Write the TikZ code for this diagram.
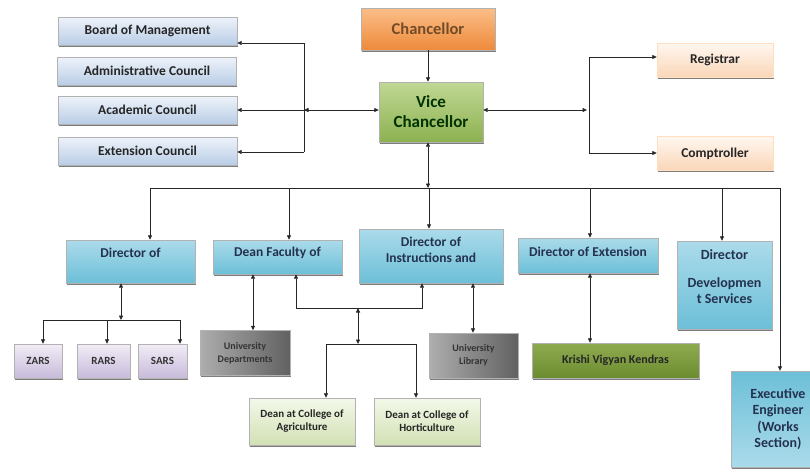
\documentclass[tikz,border=0pt]{standalone}
\usepackage{fontspec}
\setmainfont{Carlito}
\usetikzlibrary{arrows.meta,shadows}

\definecolor{councilTop}{HTML}{EEF3FA}
\definecolor{councilBot}{HTML}{B9CDE6}
\definecolor{chanTop}{HTML}{FBBE88}
\definecolor{chanBot}{HTML}{EE8A3C}
\definecolor{vcTop}{HTML}{C0D894}
\definecolor{vcBot}{HTML}{8DB150}
\definecolor{peachTop}{HTML}{FFF7F0}
\definecolor{peachBot}{HTML}{FAD6B8}
\definecolor{blueTop}{HTML}{ABDBEA}
\definecolor{blueBot}{HTML}{6CBFD8}
\definecolor{lavTop}{HTML}{F1ECF6}
\definecolor{lavBot}{HTML}{C8BBDB}
\definecolor{oliveTop}{HTML}{8FAB50}
\definecolor{oliveBot}{HTML}{6C8C30}
\definecolor{paleTop}{HTML}{F3F8E9}
\definecolor{paleBot}{HTML}{D2E1B4}
\definecolor{navyText}{HTML}{24324F}

\tikzset{
  box/.style={draw=black!30, line width=0.4pt, align=center, inner sep=1pt,
    drop shadow={shadow xshift=0.5pt, shadow yshift=-1.6pt, fill=black!60, opacity=0.85}},
  councilbox/.style={box, top color=councilTop, bottom color=councilBot,
    minimum width=179pt, minimum height=28pt, text=black!85,
    font=\bfseries\fontsize{13.5}{15}\selectfont},
  peachbox/.style={box, draw=orange!25, top color=peachTop, bottom color=peachBot,
    minimum width=116pt, minimum height=34pt, text=black!85,
    font=\bfseries\fontsize{13.5}{15}\selectfont},
  bluebox/.style={box, top color=blueTop, bottom color=blueBot},
  bluetext/.style={align=center, text=navyText, font=\bfseries\fontsize{13.5}{16}\selectfont},
  lavbox/.style={box, top color=lavTop, bottom color=lavBot, minimum height=34pt,
    text=black!80, font=\bfseries\fontsize{11}{13}\selectfont},
  graybox/.style={box, left color=black!32, middle color=black!6, right color=black!62,
    minimum width=90pt, minimum height=45pt, text=black!80,
    font=\bfseries\fontsize{10}{13}\selectfont},
  palebox/.style={box, top color=paleTop, bottom color=paleBot,
    minimum width=106pt, minimum height=47pt, text=black!85,
    font=\bfseries\fontsize{11}{13}\selectfont},
  link/.style={draw=black!85, line width=0.8pt},
  tip/.style={-{Triangle[length=4.5pt,width=4pt]}},
  twotip/.style={{Triangle[length=4.5pt,width=4pt]}-{Triangle[length=4.5pt,width=4pt]}}
}

\begin{document}
\begin{tikzpicture}[x=1pt, y=-1pt]
\useasboundingbox (0,0) rectangle (810,471);

% councils on the left
\node[councilbox] (bom) at (147.5,31) {Board of Management};
\node[councilbox] (adm) at (147,71) {Administrative Council};
\node[councilbox] (acad) at (147.5,110) {Academic Council};
\node[councilbox] (extc) at (147.5,151) {Extension Council};

% top of the tree
\node[box, top color=chanTop, bottom color=chanBot, minimum width=134pt, minimum height=42pt,
  text=brown!60!black, font=\bfseries\fontsize{16.5}{19}\selectfont] (chan) at (428,29) {Chancellor};
\node[box, top color=vcTop, bottom color=vcBot, minimum width=104pt, minimum height=60pt,
  text=green!20!black, font=\bfseries\fontsize{17}{20}\selectfont] (vc) at (431,112) {Vice\\Chancellor};
\node[peachbox] (reg) at (715,60) {Registrar};
\node[peachbox] (comp) at (715,153.5) {Comptroller};

% directors and deans
\node[bluebox, minimum width=129pt, minimum height=43pt,
  label={[bluetext, yshift=8.5pt]center:Director of}] (res) at (130.5,261.5) {};
\node[bluebox, minimum width=129pt, minimum height=34pt,
  label={[bluetext, yshift=4pt]center:Dean Faculty of}] (dean) at (277.5,257) {};
\node[bluebox, minimum width=144pt, minimum height=54pt,
  label={[bluetext, yshift=6pt]center:Director of\\Instructions and}] (inst) at (431,256) {};
\node[bluebox, minimum width=140pt, minimum height=35pt,
  label={[bluetext, yshift=3.5pt]center:Director of Extension}] (extn) at (588,255.5) {};
\node[bluebox, minimum width=95pt, minimum height=88pt,
  label={[bluetext, yshift=8pt, font=\bfseries\fontsize{14}{16}\selectfont]center:Director\\[12pt]Developmen\\t Services}] (dev) at (724.5,285) {};
\node[box, top color=blueBot, bottom color=blueTop, minimum width=94pt, minimum height=96pt,
  text=navyText, font=\bfseries\fontsize{14}{16.5}\selectfont] (exec) at (778,419)
  {Executive\\Engineer\\(Works\\Section)};

% research stations
\node[lavbox, minimum width=48pt] (zars) at (38,361) {ZARS};
\node[lavbox, minimum width=53pt] (rars) at (103.5,361) {RARS};
\node[lavbox, minimum width=49pt] (sars) at (162.5,361) {SARS};

\node[graybox] (udept) at (245,353) {University\\Departments};
\node[graybox, minimum width=89pt] (lib) at (473.5,355.5) {University\\Library};
\node[box, top color=oliveTop, bottom color=oliveBot, minimum width=167pt, minimum height=35pt,
  text=black!85, font=\bfseries\fontsize{12}{14}\selectfont] (kvk) at (615.5,360.5) {Krishi Vigyan Kendras};
\node[palebox] (agri) at (302,421.5) {Dean at College of\\Agriculture};
\node[palebox] (hort) at (427,421.5) {Dean at College of\\Horticulture};

% junction points
\coordinate (lbTop) at (304,43);
\coordinate (lbMid) at (304,110);
\coordinate (lbBot) at (304,152);
\coordinate (rbTop) at (589,57);
\coordinate (rbMid) at (589,110);
\coordinate (rbBot) at (589,153);
\coordinate (busL) at (150,188);
\coordinate (busR) at (780,188);
\coordinate (vcX) at (428,188);
\coordinate (deanX) at (289,188);
\coordinate (instX) at (429,188);
\coordinate (extX) at (590,188);
\coordinate (devX) at (722,188);
\coordinate (resJ) at (121,320);
\coordinate (zJ) at (43,320);
\coordinate (rJ) at (107,320);
\coordinate (sJ) at (180,320);
\coordinate (udX) at (253,300);
\coordinate (libX) at (473,300);
\coordinate (lpL) at (296,308);
\coordinate (lpR) at (422,308);
\coordinate (colJ) at (358,308);
\coordinate (colB) at (358,344);
\coordinate (agX) at (326,344);
\coordinate (hoX) at (416,344);

% connectors
\draw[link, tip] (vcX |- chan.south) -- (vcX |- vc.north);
\draw[link] (lbTop) -- (lbBot);
\draw[link, tip] (lbTop) -- (lbTop -| bom.east);
\draw[link, tip] (lbMid) -- (lbMid -| acad.east);
\draw[link, tip] (lbBot) -- (lbBot -| extc.east);
\draw[link, twotip] (lbMid) -- (lbMid -| vc.west);
\draw[link, twotip] (rbMid -| vc.east) -- ([xshift=-2pt]rbMid);
\draw[link] (rbTop) -- (rbBot);
\draw[link, tip] (rbTop) -- (rbTop -| reg.west);
\draw[link, tip] (rbBot) -- (rbBot -| comp.west);

\draw[link, twotip] (vcX |- vc.south) -- (vcX);
\draw[link] (busL) -- (busR);
\draw[link, tip] (busL) -- (busL |- res.north);
\draw[link, tip] (deanX) -- (deanX |- dean.north);
\draw[link, tip] (instX) -- (instX |- inst.north);
\draw[link, tip] (extX) -- (extX |- extn.north);
\draw[link, tip] (devX) -- (devX |- dev.north);
\draw[link, tip] (busR) -- (busR |- exec.north);

\draw[link, twotip] (resJ |- res.south) -- (resJ);
\draw[link] (zJ) -- (sJ);
\draw[link, tip] (zJ) -- (zJ |- zars.north);
\draw[link, tip] (rJ) -- (rJ |- rars.north);
\draw[link, tip] (sJ) -- (sJ |- sars.north);

\draw[link, twotip] (udX |- dean.south) -- (udX |- udept.north);
\draw[link, twotip] (lpL |- dean.south) -- (lpL) -- (lpR) -- (lpR |- inst.south);
\draw[link, twotip] (colJ) -- (colB);
\draw[link] (agX) -- (hoX);
\draw[link, tip] (agX) -- (agX |- agri.north);
\draw[link, tip] (hoX) -- (hoX |- hort.north);
\draw[link, twotip] (libX |- inst.south) -- (libX |- lib.north);
\draw[link, twotip] (extX |- extn.south) -- (extX |- kvk.north);
\end{tikzpicture}
\end{document}
